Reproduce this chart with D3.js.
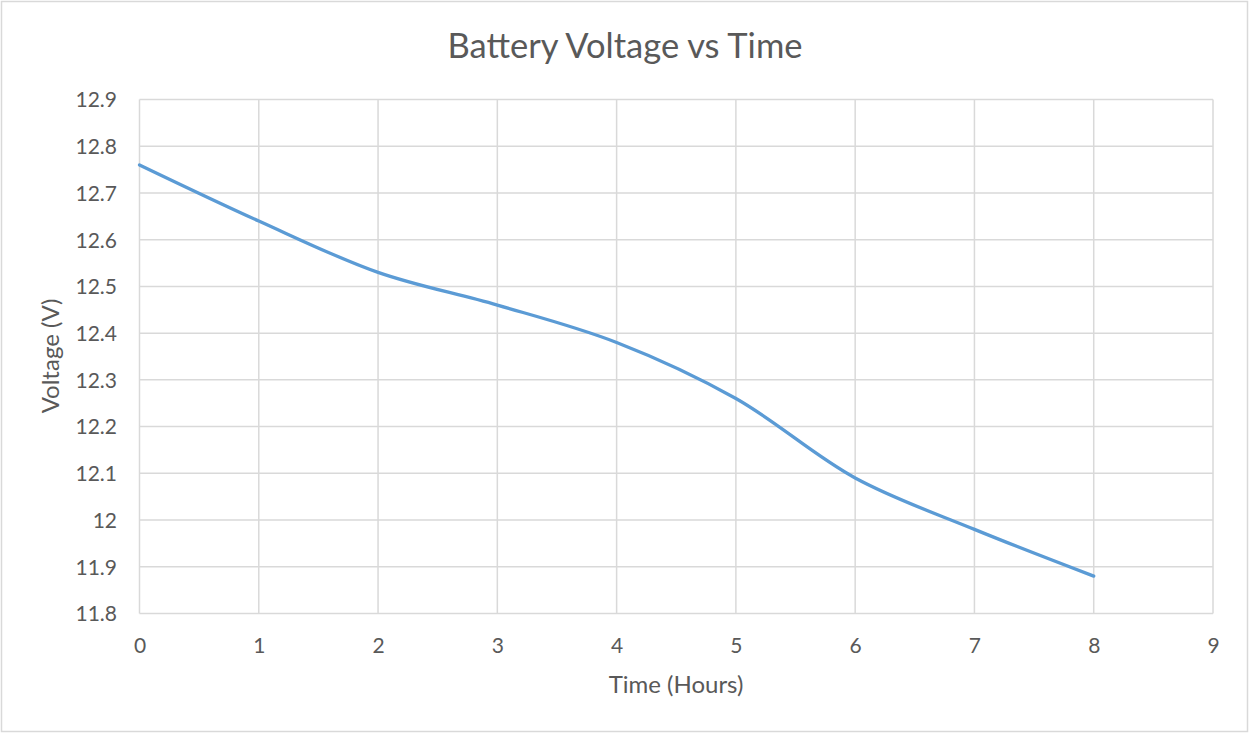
<!DOCTYPE html>
<html><head><meta charset="utf-8">
<script src="https://cdn.jsdelivr.net/npm/d3@7"></script>
<style>body{margin:0;background:#fff}svg{display:block}</style>
</head><body>
<script>
const hours = [0,1,2,3,4,5,6,7,8];
const voltage = [12.76,12.64,12.53,12.46,12.38,12.26,12.09,11.98,11.88];
const xTicks = [0,1,2,3,4,5,6,7,8,9];
const yTicks = [11.8,11.9,12,12.1,12.2,12.3,12.4,12.5,12.6,12.7,12.8,12.9];
const title = "Battery Voltage vs Time";
const xLabel = "Time (Hours)";
const yLabel = "Voltage (V)";

const W = 1249, H = 733;
const font = "Lato, 'Open Sans', sans-serif";
const txt = "#595959";
const svg = d3.select("body").append("svg").attr("width", W).attr("height", H);
svg.append("rect").attr("x",1.5).attr("y",1.5).attr("width",W-3).attr("height",H-3)
  .attr("fill","#fff").attr("stroke","#d9d9d9").attr("stroke-width",1.5);

const x = d3.scaleLinear().domain([0,9]).range([139.5,1213]);
const y = d3.scaleLinear().domain([11.8,12.9]).range([613.5,99.5]);

const g = svg.append("g");
g.selectAll(".vg").data(xTicks).join("line")
  .attr("x1",d=>x(d)).attr("x2",d=>x(d)).attr("y1",y(12.9)).attr("y2",y(11.8))
  .attr("stroke","#d9d9d9").attr("stroke-width",1.5);
g.selectAll(".hg").data(yTicks).join("line")
  .attr("x1",x(0)).attr("x2",x(9)).attr("y1",d=>y(d)).attr("y2",d=>y(d))
  .attr("stroke","#d9d9d9").attr("stroke-width",1.5);

const xAxis = d3.axisBottom(x).tickValues(xTicks).tickSize(0).tickPadding(0).tickFormat(d3.format("d"));
const xa = svg.append("g").attr("transform",`translate(0,${y(11.8)+39})`).call(xAxis);
xa.select(".domain").remove();
xa.selectAll("text").attr("fill",txt).style("font-family",font).style("font-size","21px").attr("dy","0");

const yAxis = d3.axisLeft(y).tickValues(yTicks).tickSize(0).tickPadding(0).tickFormat(d=>d3.format("")(+d.toFixed(1)));
const ya = svg.append("g").attr("transform",`translate(117,0)`).call(yAxis);
ya.select(".domain").remove();
ya.selectAll("text").attr("fill",txt).style("font-family",font).style("font-size","21px").attr("dy","0.35em");

const line = d3.line().x((d,i)=>x(hours[i])).y(d=>y(d)).curve(d3.curveCatmullRom.alpha(0.5));
svg.append("path").attr("d",line(voltage)).attr("fill","none")
  .attr("stroke","#5b9bd5").attr("stroke-width",3.3).attr("stroke-linecap","round");

svg.append("text").attr("x",625).attr("y",58).attr("text-anchor","middle")
  .attr("fill",txt).style("font-family",font).style("font-size","34.5px").text(title);
svg.append("text").attr("x",676).attr("y",693).attr("text-anchor","middle")
  .attr("fill",txt).style("font-family",font).style("font-size","24px").text(xLabel);
svg.append("text").attr("transform","translate(59,356) rotate(-90)").attr("text-anchor","middle")
  .attr("fill",txt).style("font-family",font).style("font-size","24px").text(yLabel);
</script>
</body></html>
